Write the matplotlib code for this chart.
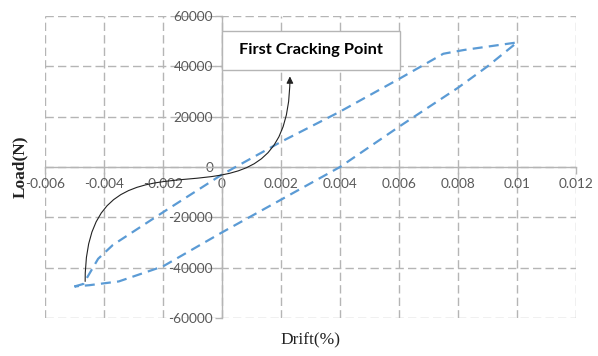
import matplotlib.pyplot as plt
from matplotlib.patches import FancyArrowPatch, Rectangle
from matplotlib.path import Path

# Hysteresis loop (drift, load)
drift = [-0.0050, -0.0047, -0.00445, -0.0042, -0.0037, -0.0020, 0.0000, 0.0020,
         0.0040, 0.0060, 0.0075, 0.0082, 0.0100,
         0.0090, 0.0080, 0.0060, 0.0040, 0.0020, 0.0000, -0.0020, -0.0035,
         -0.0045, -0.0050]
load = [-47500, -46500, -41500, -36500, -31000, -18000, -3000, 10000,
        22000, 35000, 45000, 46500, 49500,
        40000, 31500, 16000, 0, -13000, -26000, -39500, -45500,
        -47000, -47500]

xticks = [-0.006, -0.004, -0.002, 0, 0.002, 0.004, 0.006, 0.008, 0.01, 0.012]
xtick_labels = ['-0.006', '-0.004', '-0.002', '0', '0.002', '0.004', '0.006', '0.008', '0.01', '0.012']
yticks = [-60000, -40000, -20000, 0, 20000, 40000, 60000]
ytick_labels = ['-60000', '-40000', '-20000', '0', '20000', '40000', '60000']

# annotation geometry
note_text = 'First Cracking Point'
arrow_start = (-0.00464, -45500)
arrow_end = (0.0023, 36000)
arrow_bend = 74000
box_x0, box_x1 = 0.0, 0.00603
box_y0, box_y1 = 38600, 54100

grid_color = '#b5b5b5'
tick_color = '#595959'

fig = plt.figure(figsize=(5.98, 3.56), dpi=100)
ax = fig.add_axes([0.0753, 0.107, 0.888, 0.848])

ax.plot(drift, load, color='#5b9bd5', lw=1.6, ls=(0, (4.5, 2.8)), zorder=3)

ax.set_xlim(-0.006, 0.012)
ax.set_ylim(-60000, 60000)
ax.set_xticks(xticks)
ax.set_xticklabels(xtick_labels)
ax.set_yticks(yticks)
ax.set_yticklabels(ytick_labels)

ax.grid(True, color=grid_color, lw=1.0, ls=(0, (6, 3)))
ax.set_axisbelow(True)

for side in ['top', 'right']:
    ax.spines[side].set_visible(False)
ax.spines['left'].set_position(('data', 0))
ax.spines['bottom'].set_position(('data', 0))
for side in ['left', 'bottom']:
    ax.spines[side].set_color(grid_color)
    ax.spines[side].set_linewidth(1.0)

ax.tick_params(axis='both', colors=grid_color, length=5, width=1.0,
               labelcolor=tick_color, labelsize=9.8)
ax.tick_params(axis='y', pad=1.5)
ax.tick_params(axis='x', pad=3)
for lab in ax.get_xticklabels() + ax.get_yticklabels():
    lab.set_fontfamily('Lato')

ax.set_xlabel('Drift(%)', family='Liberation Serif', fontsize=12.5, color='#222222', va='center')
ax.xaxis.set_label_coords(0.5, -0.076)
ax.set_ylabel('Load(N)', family='Liberation Serif', fontsize=12.5, fontweight='bold', color='#222222',
              va='center')
ax.yaxis.set_label_coords(-0.047, 0.5)

# text box
ax.add_patch(Rectangle((box_x0, box_y0), box_x1 - box_x0, box_y1 - box_y0,
                       facecolor='white', edgecolor=grid_color, lw=1.0, zorder=4))
ax.text((box_x0 + box_x1) / 2, (box_y0 + box_y1) / 2, note_text, ha='center', va='center',
        family='Lato', fontweight='bold', fontsize=11.8, color='black', zorder=5)

# S-shaped arrow
verts = [arrow_start,
         (arrow_start[0], arrow_start[1] + arrow_bend),
         (arrow_end[0], arrow_end[1] - arrow_bend),
         arrow_end]
path = Path(verts, [Path.MOVETO, Path.CURVE4, Path.CURVE4, Path.CURVE4])
arrow = FancyArrowPatch(path=path, arrowstyle='-|>', mutation_scale=10,
                        color='#222222', lw=0.8, zorder=4)
ax.add_patch(arrow)

plt.savefig('out.png', dpi=100)
